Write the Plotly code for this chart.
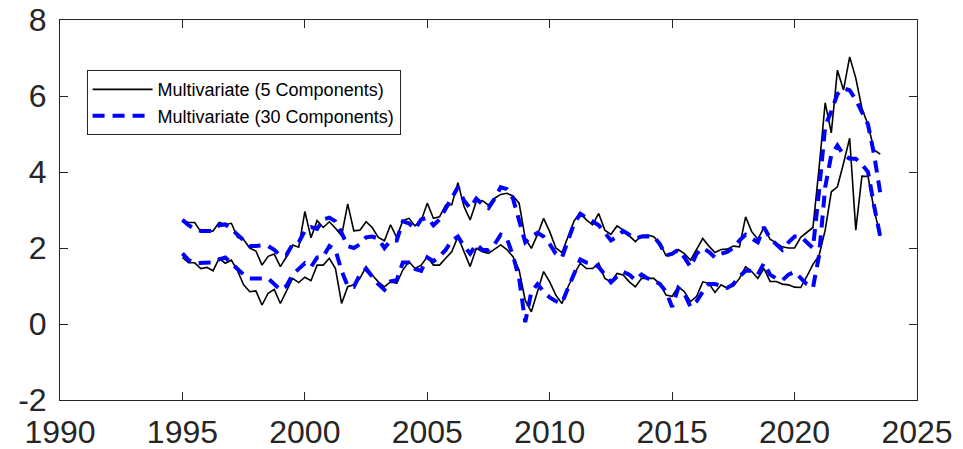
import plotly.graph_objects as go

start_year = 1995
step = 0.25

# Multivariate (5 Components) - upper and lower bands (quarterly, 1995Q1 .. 2023Q3)
upper_5 = [
    2.74, 2.67, 2.67, 2.43,  # 1995
    2.43, 2.45, 2.67, 2.62,  # 1996
    2.65, 2.28, 2.22, 2.00,  # 1997
    1.92, 1.55, 1.78, 1.84,  # 1998
    1.51, 1.77, 2.08, 2.02,  # 1999
    2.96, 2.27, 2.72, 2.54,  # 2000
    2.69, 2.52, 2.32, 3.16,  # 2001
    2.45, 2.47, 2.69, 2.54,  # 2002
    2.28, 2.19, 2.61, 2.28,  # 2003
    2.72, 2.78, 2.58, 2.72,  # 2004
    3.18, 2.78, 2.82, 3.13,  # 2005
    3.14, 3.72, 3.09, 2.74,  # 2006
    3.22, 3.25, 3.13, 3.31,  # 2007
    3.41, 3.44, 3.37, 3.18,  # 2008
    2.25, 1.99, 2.35, 2.78,  # 2009
    2.43, 2.00, 1.88, 2.30,  # 2010
    2.72, 2.91, 2.74, 2.61,  # 2011
    2.91, 2.47, 2.36, 2.58,  # 2012
    2.47, 2.32, 2.17, 2.33,  # 2013
    2.34, 2.30, 2.12, 1.80,  # 2014
    1.82, 1.96, 1.85, 1.68,  # 2015
    1.97, 2.25, 2.05, 1.88,  # 2016
    1.96, 1.97, 2.05, 2.03,  # 2017
    2.82, 2.43, 2.23, 2.54,  # 2018
    2.23, 2.12, 2.03, 2.00,  # 2019
    2.00, 2.28, 2.40, 2.54,  # 2020
    4.10, 5.82, 5.03, 6.68,  # 2021
    6.16, 7.03, 6.47, 5.68,  # 2022
    5.24, 4.58, 4.47,        # 2023
]
lower_5 = [
    1.75, 1.61, 1.61, 1.46,
    1.49, 1.40, 1.73, 1.60,
    1.68, 1.40, 1.03, 0.85,
    0.87, 0.50, 0.81, 0.91,
    0.54, 0.85, 1.20, 1.09,
    1.23, 1.14, 1.55, 1.55,
    1.73, 1.46, 0.54, 0.98,
    1.03, 1.20, 1.51, 1.29,
    1.11, 0.98, 1.11, 1.07,
    1.42, 1.64, 1.46, 1.55,
    1.77, 1.55, 1.55, 1.73,
    1.90, 2.30, 1.90, 1.51,
    1.99, 1.90, 1.86, 1.96,
    2.08, 1.96, 1.77, 1.42,
    0.62, 0.32, 0.87, 1.38,
    1.11, 0.76, 0.54, 0.98,
    1.31, 1.60, 1.46, 1.46,
    1.60, 1.20, 1.11, 1.33,
    1.29, 1.11, 0.98, 1.20,
    1.20, 1.20, 1.05, 0.76,
    0.73, 0.98, 0.85, 0.59,
    0.73, 1.11, 1.07, 0.83,
    1.03, 0.94, 1.00, 1.20,
    1.51, 1.38, 1.20, 1.46,
    1.12, 1.12, 1.05, 1.03,
    0.97, 0.96, 1.25, 1.57,
    1.80, 2.47, 3.48, 3.61,
    4.23, 4.89, 2.47, 3.89,
    3.88, 3.00, 2.32,
]

# Multivariate (30 Components) - upper and lower bands
upper_30 = [
    2.74, 2.60, 2.50, 2.45,
    2.45, 2.45, 2.60, 2.62,
    2.50, 2.35, 2.22, 2.05,
    2.05, 2.07, 2.05, 1.95,
    1.80, 1.82, 2.10, 2.15,
    2.45, 2.55, 2.50, 2.75,
    2.80, 2.70, 2.40, 2.05,
    2.00, 2.10, 2.28, 2.30,
    2.25, 2.00, 2.20, 2.20,
    2.70, 2.65, 2.50, 2.75,
    2.80, 2.60, 2.75, 3.05,
    3.35, 3.60, 3.25, 3.05,
    3.30, 3.15, 3.05, 3.30,
    3.60, 3.55, 3.30, 2.75,
    2.15, 2.30, 2.40, 2.30,
    2.10, 1.85, 1.75, 2.20,
    2.65, 2.90, 2.80, 2.70,
    2.60, 2.40, 2.20, 2.30,
    2.45, 2.35, 2.25, 2.30,
    2.30, 2.30, 2.10, 1.80,
    1.85, 1.95, 1.75, 1.50,
    1.85, 2.00, 1.90, 1.75,
    1.85, 1.90, 2.00, 2.20,
    2.35, 2.25, 2.15, 2.55,
    2.25, 2.10, 1.95, 2.15,
    2.30, 2.30, 2.15, 2.00,
    3.50, 5.20, 5.60, 6.05,
    6.20, 6.15, 5.90, 5.60,
    5.25, 4.45, 3.45,
]
lower_30 = [
    1.86, 1.68, 1.60, 1.60,
    1.60, 1.62, 1.70, 1.75,
    1.60, 1.45, 1.30, 1.20,
    1.20, 1.20, 1.20, 1.05,
    0.90, 1.00, 1.30, 1.45,
    1.60, 1.50, 1.75, 1.77,
    2.05, 1.95, 1.40, 1.00,
    0.98, 1.30, 1.45, 1.25,
    1.05, 0.90, 1.12, 1.15,
    1.62, 1.62, 1.45, 1.40,
    1.75, 1.65, 1.78, 1.95,
    2.20, 2.30, 2.05, 1.85,
    2.10, 1.95, 1.95, 2.10,
    2.35, 2.25, 1.80, 1.20,
    0.05, 0.85, 1.05, 0.85,
    0.70, 0.60, 0.55, 0.95,
    1.35, 1.70, 1.62, 1.60,
    1.50, 1.30, 1.10, 1.25,
    1.37, 1.30, 1.15, 1.30,
    1.20, 1.15, 1.05, 0.85,
    0.45, 0.95, 0.80, 0.45,
    0.60, 0.85, 1.05, 1.05,
    1.00, 0.95, 1.05, 1.25,
    1.40, 1.40, 1.30, 1.60,
    1.30, 1.20, 1.15, 1.30,
    1.37, 1.20, 1.05, 0.95,
    1.80, 3.60, 4.45, 4.70,
    4.45, 4.35, 4.35, 4.20,
    4.00, 3.10, 2.30,
]

x_ticks = [1990, 1995, 2000, 2005, 2010, 2015, 2020, 2025]
y_ticks = [-2, 0, 2, 4, 6, 8]

n = len(upper_5)
dates = [start_year + step * i for i in range(n)]

label_5 = "Multivariate (5 Components)"
label_30 = "Multivariate (30 Components)"

fig = go.Figure()
fig.add_trace(go.Scatter(x=dates, y=upper_5, mode="lines", name=label_5,
                         line=dict(color="black", width=1.6), legendgroup="a"))
fig.add_trace(go.Scatter(x=dates, y=lower_5, mode="lines", name=label_5,
                         line=dict(color="black", width=1.6), legendgroup="a",
                         showlegend=False))
fig.add_trace(go.Scatter(x=dates, y=upper_30, mode="lines", name=label_30,
                         line=dict(color="#0000ff", width=4, dash="12px,8px"),
                         legendgroup="b"))
fig.add_trace(go.Scatter(x=dates, y=lower_30, mode="lines", name=label_30,
                         line=dict(color="#0000ff", width=4, dash="12px,8px"),
                         legendgroup="b", showlegend=False))

axis_common = dict(
    showgrid=False, zeroline=False, showline=True, mirror="ticks",
    linecolor="#262626", linewidth=1, ticks="inside", ticklen=8,
    tickcolor="#262626", tickwidth=1, automargin=False,
    tickfont=dict(family="Liberation Sans, Arial, sans-serif", size=32, color="#262626"),
)

fig.update_xaxes(range=[1990, 2025], tickvals=x_ticks,
                 ticktext=[str(v) for v in x_ticks], ticklabelstandoff=4, **axis_common)
fig.update_yaxes(range=[-2, 8], tickvals=y_ticks,
                 ticktext=[str(v) for v in y_ticks], ticklabelstandoff=6, **axis_common)

fig.update_layout(
    width=963, height=449,
    margin=dict(l=60, r=46, t=20, b=49),
    paper_bgcolor="white", plot_bgcolor="white",
    showlegend=True,
    legend=dict(
        x=0.031, y=0.868, xanchor="left", yanchor="top",
        bgcolor="white", bordercolor="#262626", borderwidth=1,
        font=dict(family="Liberation Sans, Arial, sans-serif", size=18, color="black"),
        itemwidth=60, tracegroupgap=0, traceorder="normal",
    ),
)

fig.write_html("out.html")
